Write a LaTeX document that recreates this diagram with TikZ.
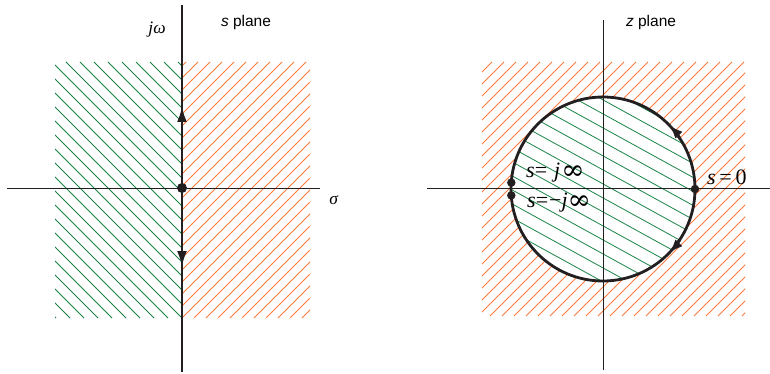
\documentclass[tikz,border=0pt]{standalone}
\usepackage{fontspec}
\setmainfont{Liberation Serif}
\newfontfamily\planefont{Liberation Sans}
\newfontfamily\inffont{DejaVu Serif}
\usetikzlibrary{arrows.meta,calc}
\definecolor{hatchGreen}{HTML}{1A8448}
\definecolor{hatchOrange}{HTML}{FF7A3D}
\definecolor{axisInk}{HTML}{231F20}
\newcommand{\biginf}{{\inffont\fontsize{28}{28}\selectfont\raisebox{-1.5pt}{∞}}}

\begin{document}
\begin{tikzpicture}[x=1pt,y=-1pt,>=Latex,line join=round]
\useasboundingbox (0,0) rectangle (770,374);
\tikzset{greenhatch/.style={draw=hatchGreen,line width=0.8pt},orangehatch/.style={draw=hatchOrange,line width=0.9pt},axis/.style={draw=axisInk,line width=0.9pt},contour/.style={draw=axisInk,line width=2.8pt},dot/.style={circle,fill=axisInk,inner sep=0pt,minimum size=10pt},lab/.style={font=\fontsize{22}{25}\selectfont},axlab/.style={font=\fontsize{17.5}{20}\selectfont},planelab/.style={font=\planefont\fontsize{15.5}{18}\selectfont}}
% s plane hatching
\begin{scope}
\clip (55,62) rectangle (182,318);
\foreach \i in {-214,-200,...,182} \draw[greenhatch] (\i,62) -- ++(256,256);
\end{scope}
\begin{scope}
\clip (182,62) rectangle (310,318);
\foreach \i in {-82,-70,...,310} \draw[orangehatch] (\i,318) -- ++(256,-256);
\end{scope}
\coordinate (sW) at (7,188); \coordinate (sE) at (320,188);
\coordinate (sN) at (182,5); \coordinate (sS) at (182,372);
\draw[axis] (sW) -- (sE);
\draw[contour] (sN) -- (sS);
\draw[contour,-{Latex[length=16pt,width=10pt]}] (182,130) -- (182,106);
\draw[contour,-{Latex[length=16pt,width=10pt]}] (182,245) -- (182,267);
\node[dot] (s0) at (182,188) {};
\node[axlab] (jw) at (157,30) {\textit{jω}};
\node[planelab] (splane) at (246,22) {\textit{s} plane};
\node[axlab] (sig) at (334,200) {\textit{σ}};
% z plane hatching
\coordinate (zc) at (603,189);
\begin{scope}
\clip (482,62) rectangle (745,316);
\foreach \i in {226,238,...,745} \draw[orangehatch] (\i,316) -- ++(254,-254);
\end{scope}
\fill[white] (zc) circle (92);
\begin{scope}
\clip (zc) circle (92);
\foreach \j in {-10,4,...,300} \draw[greenhatch] (505,\j) -- ++(200,110);
\end{scope}
\coordinate (zW) at (427,188); \coordinate (zE) at (770,188);
\coordinate (zN) at (603,20); \coordinate (zS) at (603,370);
\draw[axis] (zW) -- (zE);
\draw[axis] (zN) -- (zS);
\draw[contour] (zc) circle (92);
\draw[contour,-{Latex[length=14pt,width=10pt]}] ($(zc)+(-33:92)$) arc[start angle=-33,end angle=-44,radius=92];
\draw[contour,-{Latex[length=14pt,width=10pt]}] ($(zc)+(33:92)$) arc[start angle=33,end angle=44,radius=92];
\node[dot,minimum size=8.5pt] (jinf) at (511.3,182.6) {};
\node[dot,minimum size=8.5pt] (mjinf) at (511.3,195.4) {};
\node[dot,minimum size=8.5pt] (zero) at (695,189) {};
\node[lab,inner sep=0pt,anchor=west] (ljinf) at (526,173) {\textit{s}=\hspace{7pt}\textit{j}\hspace{1pt}\biginf};
\node[lab,inner sep=0pt,anchor=west] (lmjinf) at (527,203) {\textit{s}=\hspace{1pt}−\textit{j}\biginf};
\node[lab,inner sep=0pt,anchor=west] (lzero) at (707,177) {\textit{s}\,=\,0};
\node[planelab] (zplane) at (651,22) {\textit{z} plane};
\end{tikzpicture}
\end{document}
